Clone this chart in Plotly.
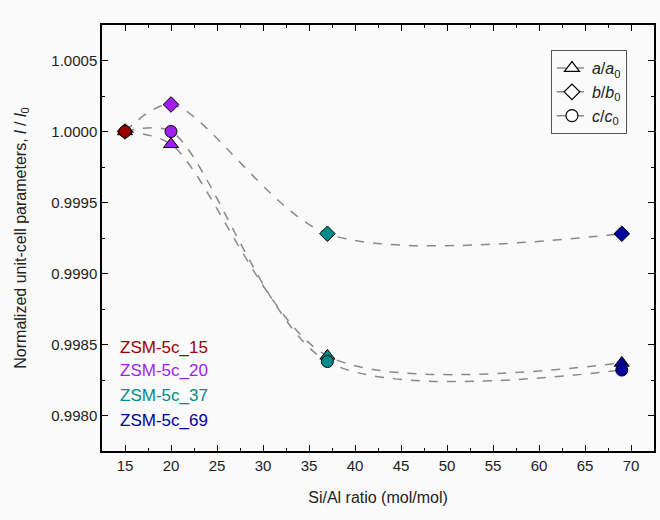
import plotly.graph_objects as go

si_al = [15, 20, 37, 69]
a_ratio = [1.00000, 0.99991, 0.99842, 0.99837]
b_ratio = [1.00000, 1.00019, 0.99928, 0.99928]
c_ratio = [1.00000, 1.00000, 0.99838, 0.99832]
sample_labels = ["ZSM-5c_15", "ZSM-5c_20", "ZSM-5c_37", "ZSM-5c_69"]
sample_colors = ["#9B0000", "#A01EF0", "#008B8B", "#0000A0"]

series = [
    ("<i>a</i>/<i>a</i><sub>0</sub>", a_ratio, "triangle-up", 13),
    ("<i>b</i>/<i>b</i><sub>0</sub>", b_ratio, "diamond", 12),
    ("<i>c</i>/<i>c</i><sub>0</sub>", c_ratio, "circle", 12),
]

FONT = "Liberation Sans, Arial, sans-serif"
LINE_COL = "#8a8a8a"

fig = go.Figure()
# smooth dashed lines
for name, vals, sym, sz in series:
    fig.add_trace(go.Scatter(
        x=si_al, y=vals, mode="lines",
        line=dict(color=LINE_COL, width=1.5, dash="dash", shape="spline", smoothing=0.85),
        showlegend=False, hoverinfo="skip"))
# colored markers
for name, vals, sym, sz in series:
    fig.add_trace(go.Scatter(
        x=si_al, y=vals, mode="markers",
        marker=dict(symbol=sym, size=sz, color=sample_colors,
                    line=dict(color="black", width=1)),
        showlegend=False))
# legend entries
for name, vals, sym, sz in series:
    fig.add_trace(go.Scatter(
        x=[None], y=[None], mode="lines+markers", name=name,
        line=dict(color=LINE_COL, width=1.5, dash="dash"),
        marker=dict(symbol=sym, size=sz, color="white",
                    line=dict(color="black", width=1.2))))

label_y = [0.2436, 0.1896, 0.1308, 0.0721]
for txt, col, yy in zip(sample_labels, sample_colors, label_y):
    fig.add_annotation(x=0.029, y=yy, xref="paper", yref="paper",
                       text=txt, showarrow=False, xanchor="left", yanchor="middle",
                       font=dict(family=FONT, size=17, color=col))

axis_common = dict(showline=True, linecolor="black", linewidth=1.5, mirror="allticks",
                   ticks="inside", ticklen=6, tickwidth=1.2, tickcolor="black",
                   showgrid=False, zeroline=False,
                   tickfont=dict(family=FONT, size=15, color="#222"))

fig.update_xaxes(range=[12.5, 72.5], dtick=5, tick0=0,
                 minor=dict(ticks="inside", dtick=2.5, ticklen=3, tickcolor="black", tickwidth=1),
                 title=dict(text="Si/Al ratio (mol/mol)", font=dict(family=FONT, size=16, color="#222"), standoff=19),
                 **axis_common)
fig.update_yaxes(range=[0.99775, 1.00075], dtick=0.0005, tick0=1.0, tickformat=".4f",
                 minor=dict(ticks="inside", dtick=0.00025, ticklen=3, tickcolor="black", tickwidth=1),
                 title=dict(text="Normalized unit-cell parameters, <i>l</i> / <i>l</i><sub>0</sub>",
                            font=dict(family=FONT, size=16, color="#222"), standoff=21),
                 **axis_common)

fig.update_layout(
    width=660, height=520,
    margin=dict(l=102, r=4, t=25, b=69),
    paper_bgcolor="#fafafa", plot_bgcolor="#fafafa",
    font=dict(family=FONT, size=15, color="#222"),
    legend=dict(x=0.951, y=0.941, xanchor="right", yanchor="top",
                bordercolor="#555", borderwidth=1, bgcolor="#fafafa",
                font=dict(family=FONT, size=16, color="#222"),
                itemwidth=30, tracegroupgap=0),
)

fig.write_html("out.html")
